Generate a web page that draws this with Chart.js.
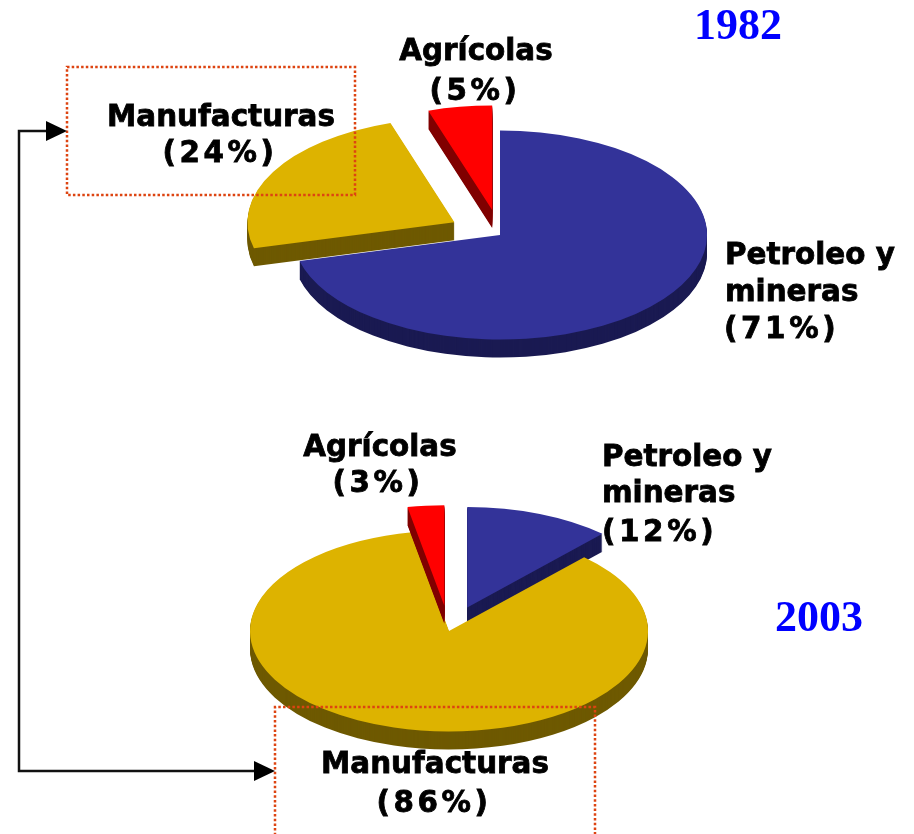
<!DOCTYPE html>
<html>
<head>
<meta charset="utf-8">
<title>Exportaciones 1982 - 2003</title>
<script src="https://cdn.jsdelivr.net/npm/chart.js@4"></script>
<style>
  html, body { margin: 0; padding: 0; background: #fff; }
  #wrap { position: relative; width: 914px; height: 834px; overflow: hidden; }
  canvas { position: absolute; left: 0; top: 0; }
</style>
</head>
<body>
<div id="wrap">
  <canvas id="pie1982" width="914" height="834"></canvas>
  <canvas id="pie2003" width="914" height="834"></canvas>
</div>
<script>
const sectors = ["Petroleo y mineras", "Manufacturas", "Agrícolas"];
const values1982 = [71, 24, 5];
const values2003 = [12, 86, 3];
const topColors = ["#333399", "#DDB300", "#FF0000"];
const sideColors = ["#1A1A52", "#6E5900", "#800000"];

const FLATTEN = 0.505;
const DEPTH = 18;

// draws each slice as a flattened stack so it looks like the old 3D pie
const pie3d = {
  id: "pie3d",
  beforeDatasetsDraw(chart, args, opts) {
    const ctx = chart.ctx;
    const arcs = chart.getDatasetMeta(0).data;
    arcs.forEach((arc, i) => {
      const mid = (arc.startAngle + arc.endAngle) / 2;
      const keep = arc.options;
      ctx.save();
      ctx.translate(arc.x, arc.y);
      ctx.scale(1, FLATTEN);
      ctx.translate(-arc.x, -arc.y);
      ctx.translate(Math.cos(mid) * opts.explode[i], Math.sin(mid) * opts.explode[i]);
      arc.options = Object.create(keep, { backgroundColor: { value: sideColors[i] } });
      for (let d = DEPTH; d > 0; d--) {
        ctx.save();
        ctx.translate(0, d / FLATTEN);
        arc.draw(ctx);
        ctx.restore();
      }
      arc.options = keep;
      arc.draw(ctx);
      ctx.restore();
    });
    return false;
  },
};

const texts = {
  id: "texts",
  afterDraw(chart, args, opts) {
    const ctx = chart.ctx;
    ctx.save();
    ctx.textBaseline = "alphabetic";
    opts.items.forEach((t) => {
      ctx.font = t.font || 'bold 29.4px "DejaVu Sans"';
      ctx.fillStyle = t.color || "#000";
      ctx.strokeStyle = ctx.fillStyle;
      ctx.lineWidth = t.font ? 0 : 0.8;
      ctx.textAlign = t.align || "center";
      // the percent lines are set wider in the original
      ctx.letterSpacing = t.text.startsWith("(") ? "3.6px" : "0px";
      ctx.fillText(t.text, t.x, t.y);
      if (!t.font) ctx.strokeText(t.text, t.x, t.y);
    });
    ctx.restore();
  },
};

function arrowHead(ctx, x, y) {
  ctx.beginPath();
  ctx.moveTo(x, y);
  ctx.lineTo(x - 21, y - 10);
  ctx.lineTo(x - 21, y + 10);
  ctx.closePath();
  ctx.fill();
}

const frames = {
  id: "frames",
  afterDraw(chart) {
    const ctx = chart.ctx;
    ctx.save();
    ctx.strokeStyle = "#DD4411";
    ctx.lineWidth = 2.5;
    ctx.setLineDash([2.5, 2.2]);
    ctx.strokeRect(67, 67, 288, 128);
    ctx.beginPath();
    ctx.moveTo(275, 840);
    ctx.lineTo(275, 707);
    ctx.lineTo(595, 707);
    ctx.lineTo(595, 840);
    ctx.stroke();
    ctx.setLineDash([]);
    ctx.strokeStyle = "#111";
    ctx.lineWidth = 2.5;
    ctx.beginPath();
    ctx.moveTo(50, 131);
    ctx.lineTo(19, 131);
    ctx.lineTo(19, 771);
    ctx.lineTo(258, 771);
    ctx.stroke();
    ctx.fillStyle = "#000";
    arrowHead(ctx, 67, 131);
    arrowHead(ctx, 275, 771);
    ctx.restore();
  },
};

function makePie(id, values, radius, padding, explode, items, extra) {
  return new Chart(document.getElementById(id), {
    type: "pie",
    data: {
      labels: sectors,
      datasets: [{ data: values, backgroundColor: topColors, borderWidth: 0 }],
    },
    options: {
      responsive: false,
      animation: false,
      events: [],
      radius: radius,
      layout: { padding: padding },
      plugins: {
        legend: { display: false },
        tooltip: { enabled: false },
        pie3d: { explode: explode },
        texts: { items: items },
      },
    },
    plugins: [pie3d, texts].concat(extra),
  });
}

const year1982 = "1982";
const year2003 = "2003";
const yearFont = 'bold 44px "Liberation Serif"';

makePie("pie1982", values1982, 207, { left: 86, bottom: 364 }, [0, 52, 50], [
  { text: year1982, x: 694, y: 39, align: "left", font: yearFont, color: "#0000FF" },
  { text: "Agrícolas", x: 476, y: 60 },
  { text: "(5%)", x: 475, y: 100 },
  { text: "Manufacturas", x: 221, y: 126 },
  { text: "(24%)", x: 220, y: 162 },
  { text: "Petroleo y", x: 725, y: 264, align: "left" },
  { text: "mineras", x: 725, y: 301, align: "left" },
  { text: "(71%)", x: 724, y: 338, align: "left" },
], []);

makePie("pie2003", values2003, 199, { right: 16, top: 428 }, [50, 0, 50], [
  { text: year2003, x: 775, y: 631, align: "left", font: yearFont, color: "#0000FF" },
  { text: "Agrícolas", x: 380, y: 456 },
  { text: "(3%)", x: 378, y: 492 },
  { text: "Petroleo y", x: 602, y: 466, align: "left" },
  { text: "mineras", x: 602, y: 502, align: "left" },
  { text: "(12%)", x: 602, y: 541, align: "left" },
  { text: "Manufacturas", x: 435, y: 773 },
  { text: "(86%)", x: 434, y: 812 },
], [frames]);
</script>
</body>
</html>
